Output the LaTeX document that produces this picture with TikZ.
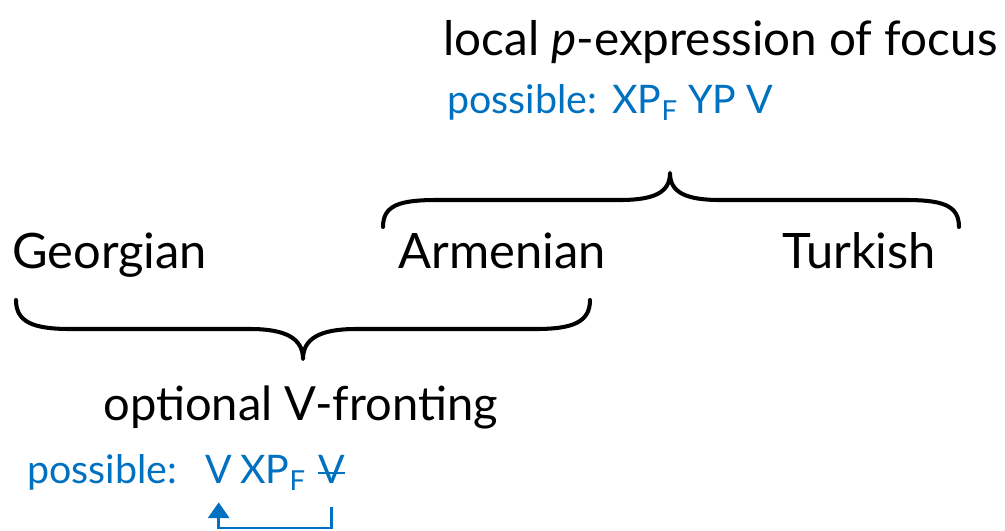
\documentclass[tikz,border=0pt]{standalone}
\usepackage{fontspec}
\setmainfont{Lato}
\usetikzlibrary{arrows.meta}
\definecolor{focusblue}{RGB}{0,112,192}
\tikzset{
  lang/.style={anchor=base west, inner sep=0pt, font=\fontsize{27.8}{34}\selectfont},
  note/.style={anchor=base west, inner sep=0pt, text=focusblue, font=\fontsize{22.4}{27}\selectfont},
  curly/.style={line width=2.3pt, line cap=round, line join=round},
  moved/.style={draw=focusblue, line width=1.7pt, -{Triangle[length=9pt, width=12pt]}},
}
\begin{document}
\begin{tikzpicture}[x=0.02cm, y=-0.02cm]
  \useasboundingbox (0,0) rectangle (1005,531);
  % oben: lokale p-Auszeichnung
  \node[lang, font=\fontsize{27.1}{34}\selectfont] (local) at (443,55) {local \textit{p}-expression of focus};
  \node[note] (possA) at (447,113) {possible:};
  \node[note] (orderA) at (612,113) {XP\textsubscript{F} YP V};
  % die drei Sprachen
  \node[lang] (geo) at (12,268) {Georgian};
  \node[lang] (arm) at (398,268) {Armenian};
  \node[lang] (tur) at (782,268) {Turkish};
  % Klammer oben: Armenian und Turkish
  \draw[curly] (383,227) .. controls (383,205) and (400,200) .. (437,200) -- (620,200)
    .. controls (655,200) and (670,192) .. (670,173)
    .. controls (670,192) and (685,200) .. (720,200) -- (905,200)
    .. controls (942,200) and (959,205) .. (959,227);
  % Klammer unten: Georgian und Armenian
  \draw[curly] (16,300) .. controls (16,322) and (33,329) .. (70,329) -- (250,329)
    .. controls (285,329) and (303,338) .. (303,359)
    .. controls (303,338) and (321,329) .. (356,329) -- (536,329)
    .. controls (573,329) and (590,322) .. (590,300);
  % unten: optionale V-Voranstellung
  \node[lang, font=\fontsize{26.8}{34}\selectfont] (front) at (103,420) {optional V-fronting};
  \node[note] (possB) at (27,483) {possible:};
  \node[note] (vnew) at (205,483) {V};
  \node[note] (xpf) at (240,483) {XP\textsubscript{F}};
  \node[note] (vold) at (318,483) {V};
  \draw[focusblue, line width=1.4pt] ([yshift=0.2cm]vold.base west) -- ([yshift=0.2cm]vold.base east);
  \draw[moved, shorten <=0.48cm, shorten >=0.38cm] (vold.south) -- (vold.south |- 0,528) -| (vnew.south);
\end{tikzpicture}
\end{document}
